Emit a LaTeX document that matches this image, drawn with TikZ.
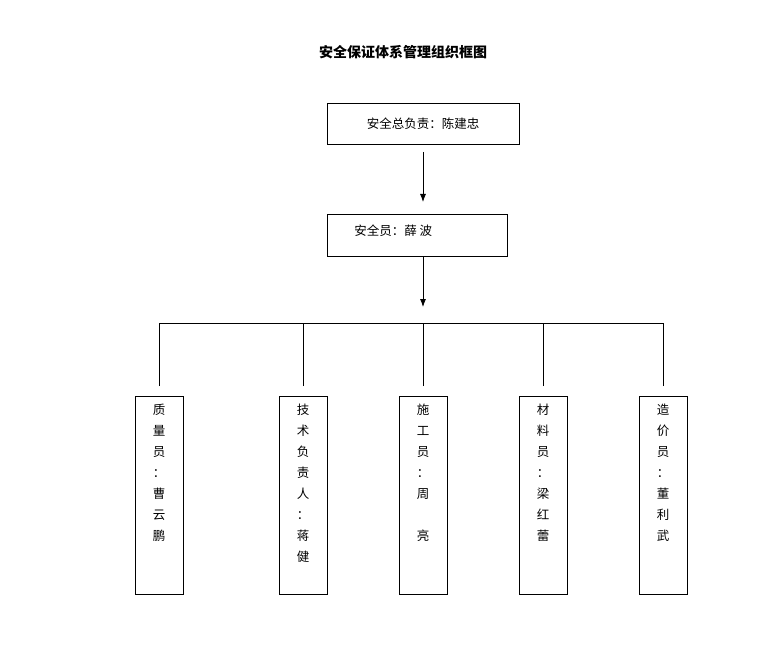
\documentclass[tikz,border=0pt]{standalone}
\usepackage{fontspec}
\setmainfont{Noto Sans CJK SC}
\usetikzlibrary{positioning}
\tikzset{
  box/.style={draw, thick, inner sep=0pt, font=\fontsize{12.5pt}{14pt}\selectfont},
  col/.style={draw, thick, minimum width=48pt, minimum height=198pt, anchor=north, inner sep=0pt},
  coltext/.style={anchor=north, align=center, inner sep=0pt, font=\fontsize{12.5pt}{21pt}\selectfont},
  arr/.style={-{Latex[length=8pt,width=6pt]}, thick}
}
\usetikzlibrary{arrows.meta}
\begin{document}
\begin{tikzpicture}[x=1pt,y=-1pt]
  \useasboundingbox (0,0) rectangle (775,660);
  \node[font=\fontsize{14pt}{16pt}\selectfont\bfseries] (title) at (403,52) {安全保证体系管理组织框图};

  \node[box, minimum width=192pt, minimum height=41pt] (chief) at (423,123.5) {安全总负责：陈建忠};
  \node[box, minimum width=180pt, minimum height=42pt] (officer) at (417,235) {};
  \node[box, draw=none, anchor=west] (officerlbl) at (354,231) {安全员：薛\ 波};
  \coordinate (a1) at (423,152);
  \coordinate (a2) at (423,202);
  \draw[arr] (a1) -- (a2);
  \coordinate (a3) at (423,307);
  \draw[arr] (officer.south -| a3) -- (a3);

  \coordinate (busL) at (159,323);
  \coordinate (busR) at (663,323);
  \draw[thick] (busL) -- (busR);

  \node[col] (q) at (159,396) {};
  \node[col] (t) at (303,396) {};
  \node[col] (s) at (423,396) {};
  \node[col] (m) at (543,396) {};
  \node[col] (c) at (663,396) {};
  \node[coltext] at (159,404) {质\\量\\员\\：\\曹\\云\\鹏};
  \node[coltext] at (303,404) {技\\术\\负\\责\\人\\：\\蒋\\健};
  \node[coltext] at (423,404) {施\\工\\员\\：\\周\\\phantom{周}\\亮};
  \node[coltext] at (543,404) {材\\料\\员\\：\\梁\\红\\蕾};
  \node[coltext] at (663,404) {造\\价\\员\\：\\董\\利\\武};
  \foreach \n in {q,t,s,m,c} {
    \path (\n.north) ++(0,-10) coordinate (\n top);
    \draw[thick] (\n top) -- (\n top |- busL);
  }
\end{tikzpicture}
\end{document}
